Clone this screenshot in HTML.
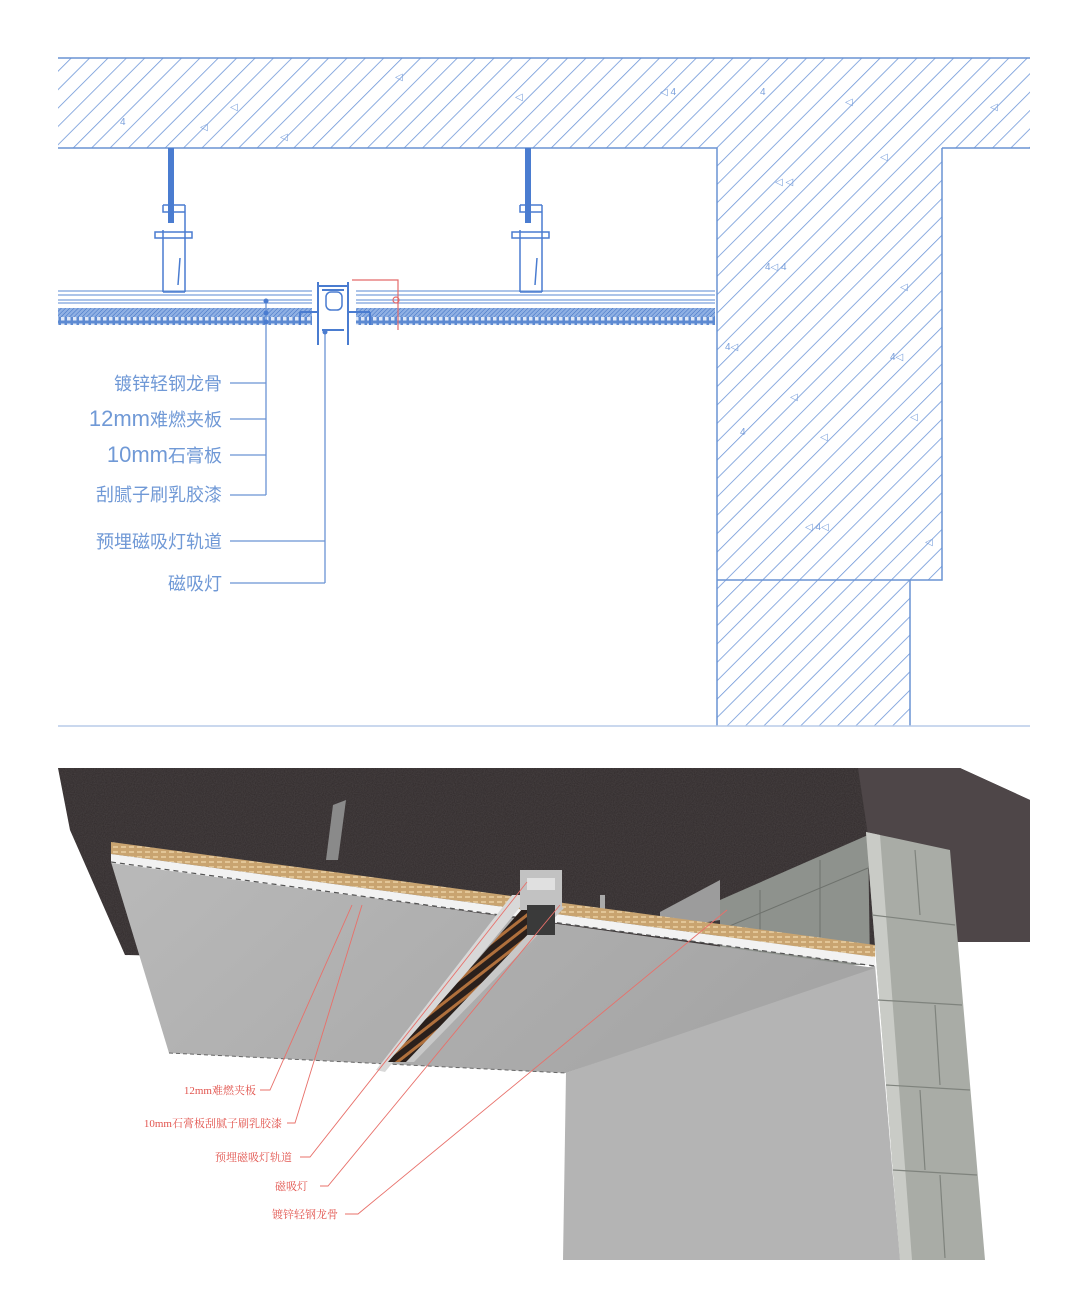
<!DOCTYPE html>
<html><head><meta charset="utf-8"><style>
html,body{margin:0;padding:0;background:#fff;width:1076px;height:1300px;overflow:hidden}
svg{display:block}
.bl{font-family:"Liberation Sans","Noto Sans CJK SC",sans-serif;fill:#7099d6}
.rd{font-family:"Liberation Serif","Noto Serif CJK SC",serif;fill:#e2554f;font-size:11px}
</style></head><body>
<svg width="1076" height="1300" viewBox="0 0 1076 1300" xmlns="http://www.w3.org/2000/svg">
<defs>
<pattern id="h" width="13" height="13" patternUnits="userSpaceOnUse" patternTransform="rotate(45)">
<line x1="0" y1="0" x2="0" y2="13" stroke="#6f97d8" stroke-width="1.6"/>
</pattern>
<pattern id="hd" width="3" height="3" patternUnits="userSpaceOnUse" patternTransform="rotate(45)">
<line x1="0" y1="0" x2="0" y2="3" stroke="#3d6fc4" stroke-width="1"/>
</pattern>
<pattern id="dots" width="6" height="7" patternUnits="userSpaceOnUse">
<rect width="6" height="7" fill="#5d8ad2"/><rect x="1" y="1.5" width="3.5" height="4" fill="#dfe8f7"/>
</pattern>
<pattern id="led" width="10" height="9" patternUnits="userSpaceOnUse" patternTransform="rotate(-38)">
<rect width="10" height="9" fill="#2a201c"/><rect y="0" width="10" height="3" fill="#b0703c"/>
</pattern>
<pattern id="wood" width="8" height="5" patternUnits="userSpaceOnUse">
<rect width="8" height="5" fill="#c9a470"/><rect x="1" y="1" width="5" height="2" fill="#e2c596"/>
</pattern>
<linearGradient id="bd" x1="0" y1="0" x2="1" y2="0.3"><stop offset="0" stop-color="#b9b9b9"/><stop offset="1" stop-color="#a5a5a5"/></linearGradient>
<filter id="nz"><feTurbulence type="fractalNoise" baseFrequency="0.9" numOctaves="1" result="t"/><feColorMatrix type="matrix" values="0 0 0 0 0.2  0 0 0 0 0.18  0 0 0 0 0.18  0 0 0 0.35 0"/><feComposite in2="SourceGraphic" operator="in"/></filter>
</defs>

<path d="M58 58 H1030 V148 H942 V580 H910 V726 H717 V148 H58 Z" fill="url(#h)"/>
<path d="M58 58 H1030 M58 148 H717 V726 M942 148 H1030 M942 148 V580 H717 M910 580 V726" fill="none" stroke="#6a93d4" stroke-width="1.5"/>
<line x1="58" y1="726" x2="1030" y2="726" stroke="#b8cbe9" stroke-width="1.5"/>
<g fill="#7aa0dc" font-size="10" font-family="Liberation Sans,sans-serif">
<text x="120" y="125">4</text><text x="395" y="80">◁</text><text x="515" y="100">◁</text><text x="660" y="95">◁ 4</text><text x="760" y="95">4</text><text x="845" y="105">◁</text><text x="990" y="110">◁</text><text x="880" y="160">◁</text><text x="775" y="185">◁ ◁</text><text x="765" y="270">4◁ 4</text><text x="900" y="290">◁</text><text x="725" y="350">4◁</text><text x="890" y="360">4◁</text><text x="790" y="400">◁</text><text x="910" y="420">◁</text><text x="820" y="440">◁</text><text x="740" y="435">4</text><text x="805" y="530">◁ 4◁</text><text x="925" y="545">◁</text><text x="230" y="110">◁</text><text x="200" y="130">◁</text><text x="280" y="140">◁</text>
</g>
<g stroke="#7aa0dc" stroke-width="1.2">
<line x1="58" y1="291" x2="715" y2="291"/><line x1="58" y1="295" x2="715" y2="295"/>
<line x1="58" y1="300" x2="715" y2="300"/><line x1="58" y1="303" x2="715" y2="303"/>
</g>
<rect x="58" y="308" width="657" height="9" fill="#8fb0e3"/>
<rect x="58" y="308" width="657" height="9" fill="url(#hd)"/>
<rect x="58" y="317" width="657" height="8" fill="url(#dots)"/>
<rect x="312" y="280" width="44" height="65" fill="#fff"/>
<g stroke="#4a7cd0" stroke-width="2" fill="none">
<path d="M318 282 V345 M348 282 V345 M318 286 H348 M322 290 H344 M322 330 H344"/>
<path d="M300 312 H318 M348 312 H370 M300 312 V325 M370 312 V325"/>
</g>
<rect x="326" y="292" width="16" height="18" rx="5" fill="#fff" stroke="#4a7cd0" stroke-width="1.5"/>
<g stroke="#e46a6a" stroke-width="1.2" fill="none"><path d="M352 280 H398 V330"/><circle cx="396" cy="300" r="3"/></g>
<g stroke="#4a7cd0" stroke-width="1.5" fill="none">
<path d="M163 205 H185 M163 205 V212 H185 M185 205 V292 M163 230 V292 M155 232 H192 V238 H155 Z M163 292 H185 M180 258 L178 285"/>
<path d="M520 205 H542 M520 205 V212 H542 M542 205 V292 M520 230 V292 M512 232 H549 V238 H512 Z M520 292 H542 M537 258 L535 285"/>
</g>
<rect x="168" y="148" width="6" height="75" fill="#4a7cd0"/>
<rect x="525" y="148" width="6" height="75" fill="#4a7cd0"/>
<g stroke="#6a93d4" stroke-width="1.3" fill="none">
<path d="M266 300 V495 M230 383 H266 M230 419 H266 M230 455 H266 M230 495 H266"/>
<path d="M325 330 V583 M230 541 H325 M230 583 H325"/>
</g>
<g fill="#4a7cd0"><circle cx="266" cy="301" r="2.5"/><circle cx="266" cy="313" r="2.5"/><circle cx="266" cy="322" r="2.5"/><circle cx="325" cy="332" r="2.5"/></g>
<g class="bl" text-anchor="end" font-size="18">
<text x="222" y="390">镀锌轻钢龙骨</text>
<text x="222" y="426"><tspan font-size="22">12mm</tspan>难燃夹板</text>
<text x="222" y="462"><tspan font-size="22">10mm</tspan>石膏板</text>
<text x="222" y="501">刮腻子刷乳胶漆</text>
<text x="222" y="548">预埋磁吸灯轨道</text>
<text x="222" y="590">磁吸灯</text>
</g>

<polygon points="58,768 960,768 1030,800 1030,942 940,942 600,965 125,955 70,830" fill="#2f292a"/>
<polygon points="58,768 960,768 1030,800 1030,942 940,942 600,965 125,955 70,830" fill="#2f292a" filter="url(#nz)"/>
<polygon points="858,768 960,768 1030,800 1030,942 948,942 948,852 868,835" fill="#4e4648"/>
<polygon points="720,900 868,835 870,965 720,965" fill="#8e928d"/>
<g stroke="#6e726d" stroke-width="1"><line x1="720" y1="930" x2="868" y2="868"/><line x1="760" y1="890" x2="760" y2="960"/><line x1="820" y1="860" x2="820" y2="960"/></g>
<polygon points="566,1073 875,965 900,1260 563,1260" fill="#b4b4b4"/>
<polygon points="866,832 950,850 985,1260 900,1260" fill="#a9aca6"/>
<polygon points="866,832 880,835 912,1260 900,1260" fill="#c9cbc6"/>
<g stroke="#7f837d" stroke-width="1.2">
<line x1="872" y1="915" x2="955" y2="925"/><line x1="878" y1="1000" x2="962" y2="1005"/><line x1="886" y1="1085" x2="970" y2="1090"/><line x1="893" y1="1170" x2="977" y2="1175"/>
<line x1="915" y1="850" x2="920" y2="915"/><line x1="935" y1="1005" x2="940" y2="1085"/><line x1="920" y1="1090" x2="925" y2="1170"/><line x1="940" y1="1175" x2="945" y2="1258"/>
</g>
<polygon points="333,805 346,800 338,860 326,860" fill="#8a8a8a"/>
<polygon points="660,912 720,880 720,920 660,930" fill="#9c9c9c"/>
<rect x="600" y="895" width="5" height="20" fill="#aaa"/>
<polygon points="111,862 875,968 566,1073 169,1053" fill="url(#bd)"/>
<polygon points="111,842 875,945 875,957 111,854" fill="url(#wood)"/>
<polygon points="111,854 875,957 875,966 111,863" fill="#f2f2f2"/>
<line x1="111" y1="862" x2="875" y2="966" stroke="#555" stroke-width="1.2" stroke-dasharray="5 4"/>
<line x1="169" y1="1053" x2="566" y2="1073" stroke="#666" stroke-width="1" stroke-dasharray="4 3"/>
<polygon points="512,895 530,895 385,1072 376,1070" fill="#d8d8d8"/>
<polygon points="530,900 556,905 408,1062 388,1062" fill="url(#led)"/>
<polygon points="556,905 564,908 414,1062 406,1062" fill="#c8c8c8"/>
<rect x="520" y="870" width="42" height="40" fill="#c2c2c2"/>
<rect x="527" y="905" width="28" height="30" fill="#3a3a3a"/>
<rect x="527" y="878" width="28" height="12" fill="#e0e0e0"/>
<g stroke="#e8706a" stroke-width="0.9" fill="none">
<path d="M260 1090 H270 L352 905"/>
<path d="M287 1123 H295 L362 905"/>
<path d="M300 1157 H310 L527 882"/>
<path d="M320 1186 H328 L560 905"/>
<path d="M345 1214 H358 L727 910"/>
</g>
<g class="rd" text-anchor="end">
<text x="256" y="1094">12mm难燃夹板</text>
<text x="282" y="1127">10mm石膏板刮腻子刷乳胶漆</text>
<text x="292" y="1161">预埋磁吸灯轨道</text>
<text x="308" y="1190">磁吸灯</text>
<text x="338" y="1218">镀锌轻钢龙骨</text>
</g>
</svg>
</body></html>
